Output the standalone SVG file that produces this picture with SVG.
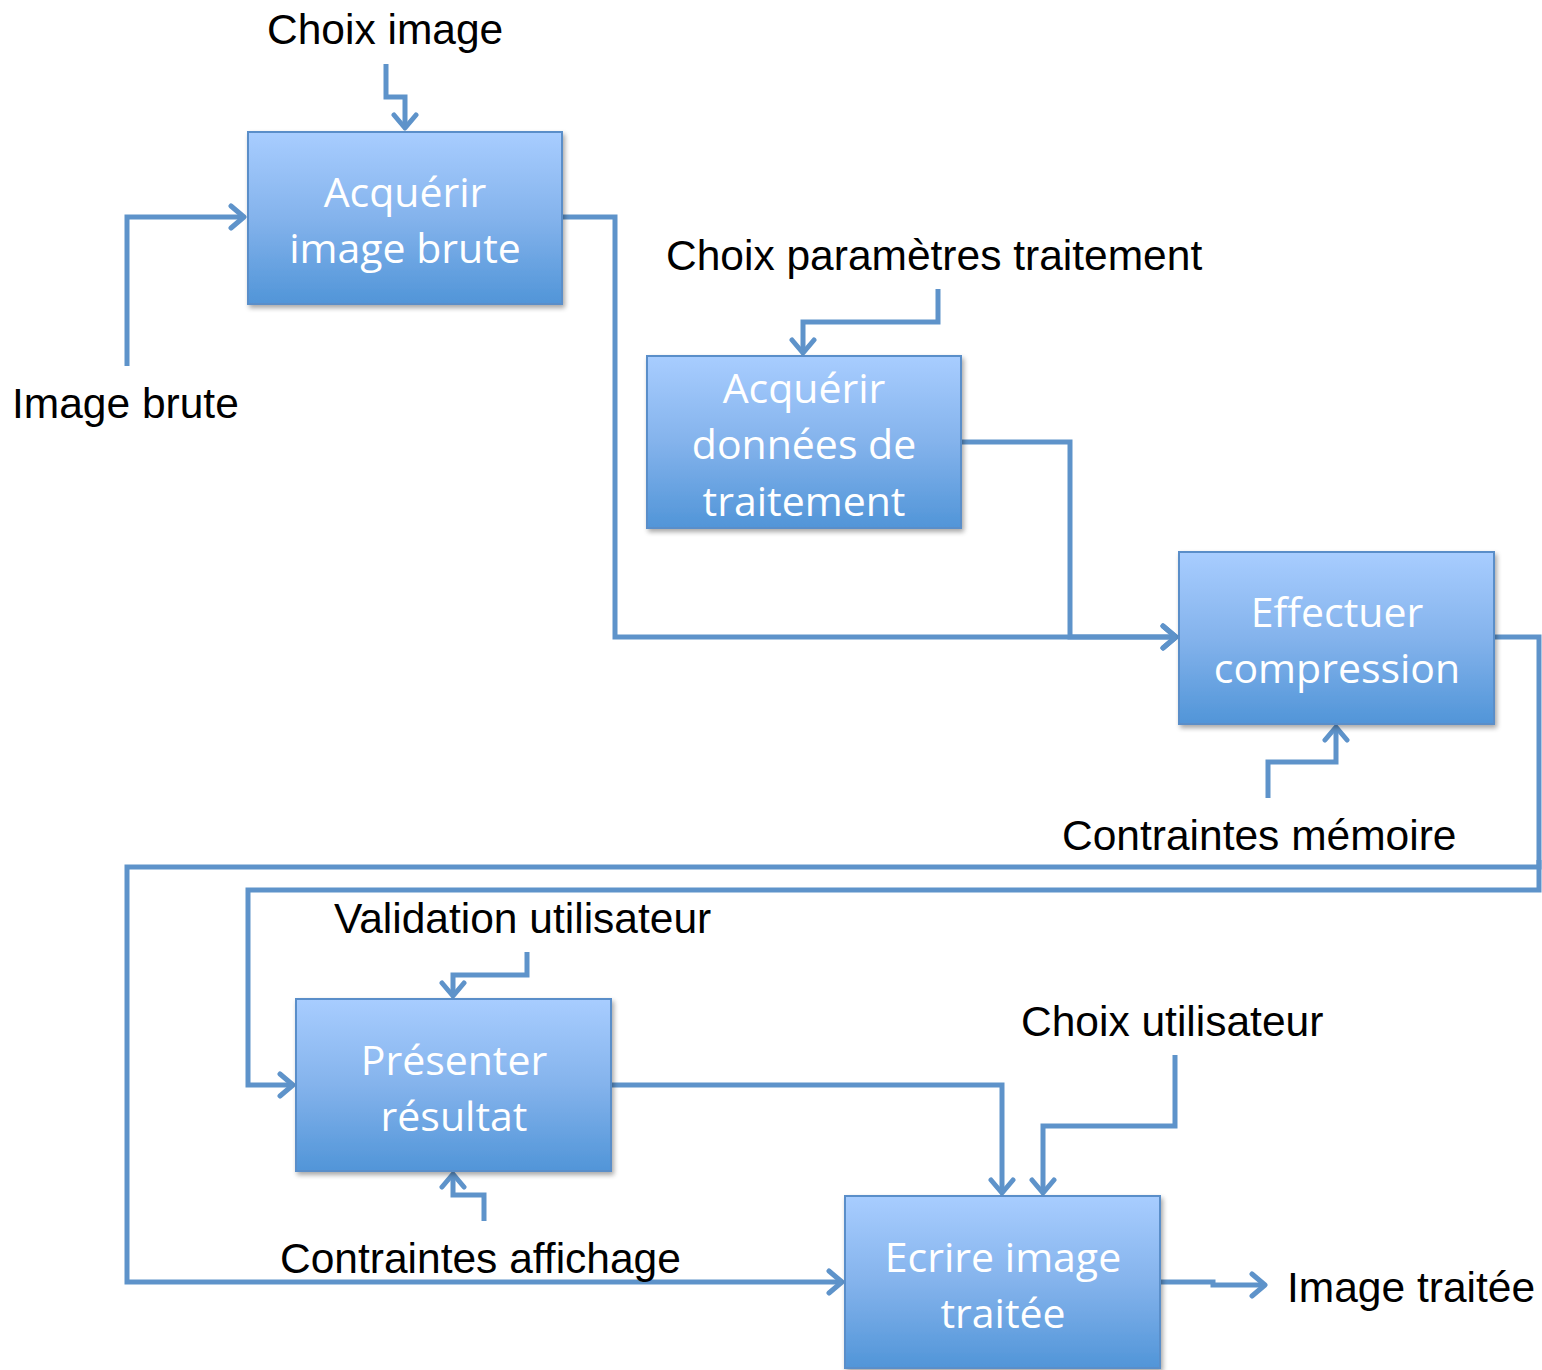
<svg xmlns="http://www.w3.org/2000/svg" width="1542" height="1370" viewBox="0 0 1542 1370">
  <defs>
    <linearGradient id="boxFill" x1="0" y1="0" x2="0" y2="1">
      <stop offset="0" stop-color="#A8CDFF"/>
      <stop offset="0.5" stop-color="#84B3EC"/>
      <stop offset="1" stop-color="#5195D8"/>
    </linearGradient>
    <filter id="shadow" x="-5%" y="-5%" width="112%" height="115%">
      <feGaussianBlur in="SourceAlpha" stdDeviation="2.5"/>
      <feOffset dx="2" dy="3" result="b"/>
      <feComponentTransfer><feFuncA type="linear" slope="0.35"/></feComponentTransfer>
      <feMerge><feMergeNode/><feMergeNode in="SourceGraphic"/></feMerge>
    </filter>
    <marker id="arrow" viewBox="-16 -14 20 28" markerWidth="20" markerHeight="28" markerUnits="userSpaceOnUse" refX="0" refY="0" orient="auto">
      <path d="M-13,-11 L0,0 L-13,11" fill="none" stroke="#5E93CA" stroke-width="5" stroke-linecap="round" stroke-linejoin="round"/>
    </marker>
  </defs>
  <style>
    .box { fill: url(#boxFill); stroke: #5A8EC9; stroke-width: 2; filter: url(#shadow); }
    .btxt { font-family: "Open Sans", "DejaVu Sans", sans-serif; font-size: 41px; fill: #FFFFFF; text-anchor: middle; }
    .lbl { font-family: "Liberation Sans", Arial, sans-serif; font-size: 42.5px; fill: #000000; }
    .wire { fill: none; stroke: #5E93CA; stroke-width: 5; stroke-linejoin: miter; }
    .arr { marker-end: url(#arrow); }
  </style>
  <rect width="1542" height="1370" fill="#FFFFFF"/>

  <!-- connectors -->
  <g id="connectors">
    <path class="wire arr" d="M386,64 V97 H405 V128"/>
    <path class="wire arr" d="M127,366 V217 H244"/>
    <path class="wire arr" d="M562,217 H615 V637 H1176"/>
    <path class="wire arr" d="M938,289 V322 H803 V353"/>
    <path class="wire arr" d="M961,442 H1070 V637 H1176"/>
    <path class="wire arr" d="M1268,798 V762 H1336 V727"/>
    <path class="wire arr" d="M1494,637 H1539 V867 H127 V1282 H842"/>
    <path class="wire arr" d="M1539,860 V890 H248 V1085 H293"/>
    <path class="wire arr" d="M527,952 V975 H453 V996"/>
    <path class="wire arr" d="M484,1221 V1195 H453 V1174"/>
    <path class="wire arr" d="M611,1085 H1002 V1193"/>
    <path class="wire arr" d="M1175,1055 V1126 H1043 V1193"/>
    <path class="wire arr" d="M1160,1282 H1213 V1285 H1265"/>
  </g>

  <!-- process boxes -->
  <g id="acquerir-image">
    <rect class="box" x="248" y="132" width="314" height="172"/>
    <text class="btxt" x="405" y="207">Acquérir</text>
    <text class="btxt" x="405" y="263">image brute</text>
  </g>
  <g id="acquerir-donnees">
    <rect class="box" x="647" y="356" width="314" height="172"/>
    <text class="btxt" x="804" y="403">Acquérir</text>
    <text class="btxt" x="804" y="459">données de</text>
    <text class="btxt" x="804" y="516">traitement</text>
  </g>
  <g id="effectuer-compression">
    <rect class="box" x="1179" y="552" width="315" height="172"/>
    <text class="btxt" x="1337" y="627">Effectuer</text>
    <text class="btxt" x="1337" y="683">compression</text>
  </g>
  <g id="presenter-resultat">
    <rect class="box" x="296" y="999" width="315" height="172"/>
    <text class="btxt" x="454" y="1075">Présenter</text>
    <text class="btxt" x="454" y="1131">résultat</text>
  </g>
  <g id="ecrire-image">
    <rect class="box" x="845" y="1196" width="315" height="172"/>
    <text class="btxt" x="1003" y="1272">Ecrire image</text>
    <text class="btxt" x="1003" y="1328">traitée</text>
  </g>

  <!-- inputs, controls and outputs -->
  <g id="labels">
    <text class="lbl" x="267" y="44">Choix image</text>
    <text class="lbl" x="12" y="418">Image brute</text>
    <text class="lbl" x="666" y="270">Choix paramètres traitement</text>
    <text class="lbl" x="1062" y="850">Contraintes mémoire</text>
    <text class="lbl" x="334" y="933">Validation utilisateur</text>
    <text class="lbl" x="1021" y="1036">Choix utilisateur</text>
    <text class="lbl" x="280" y="1273">Contraintes affichage</text>
    <text class="lbl" x="1287" y="1302">Image traitée</text>
  </g>
</svg>
